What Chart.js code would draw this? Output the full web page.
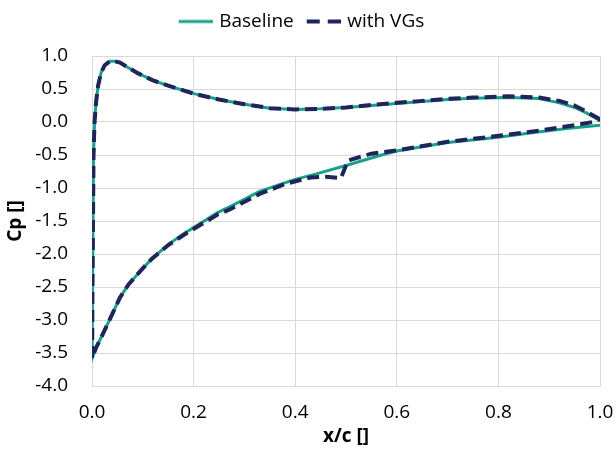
<!DOCTYPE html>
<html>
<head>
<meta charset="utf-8">
<script src="https://cdn.jsdelivr.net/npm/chart.js@4"></script>
<style>
  body { margin: 0; background: #fff; }
</style>
</head>
<body>
<canvas id="myChart" width="616" height="460"></canvas>
<script>
// Baseline Cp, traced trailing edge (upper) -> leading edge -> trailing edge (lower)
const baselineX = [1.0, 0.975, 0.95, 0.92, 0.88, 0.82, 0.75, 0.70, 0.65, 0.60, 0.55, 0.50, 0.45, 0.40, 0.35, 0.30, 0.25, 0.20, 0.15, 0.12, 0.09, 0.07, 0.055, 0.045, 0.035, 0.025, 0.018, 0.012, 0.008, 0.005, 0.003, 0.002, 0.001, 0.0005, 0.0,
  0.008, 0.019, 0.038, 0.055, 0.072, 0.095, 0.118, 0.151, 0.185, 0.2, 0.248, 0.27, 0.33, 0.40, 0.44, 0.50, 0.57, 0.60, 0.70, 0.80, 0.87, 0.935, 1.0];
const baselineCp = [0.02, 0.13, 0.22, 0.29, 0.355, 0.37, 0.36, 0.34, 0.31, 0.28, 0.25, 0.22, 0.20, 0.19, 0.21, 0.27, 0.34, 0.43, 0.55, 0.63, 0.74, 0.83, 0.90, 0.92, 0.92, 0.86, 0.75, 0.55, 0.30, 0.0, -0.5, -1.5, -2.5, -3.2, -3.58,
  -3.42, -3.25, -2.94, -2.66, -2.46, -2.26, -2.07, -1.85, -1.67, -1.60, -1.37, -1.29, -1.05, -0.87, -0.79, -0.66, -0.50, -0.44, -0.31, -0.23, -0.16, -0.10, -0.05];

// With VGs
const vgX = [1.0, 0.975, 0.95, 0.92, 0.88, 0.82, 0.75, 0.70, 0.65, 0.60, 0.55, 0.50, 0.45, 0.40, 0.35, 0.30, 0.25, 0.20, 0.15, 0.12, 0.09, 0.07, 0.055, 0.045, 0.035, 0.025, 0.018, 0.012, 0.008, 0.005, 0.003, 0.002, 0.001, 0.0005, 0.0,
  0.008, 0.019, 0.038, 0.055, 0.072, 0.095, 0.118, 0.151, 0.185, 0.2, 0.248, 0.27, 0.33, 0.38, 0.43, 0.46, 0.49, 0.50, 0.505, 0.55, 0.60, 0.70, 0.80, 0.88, 0.95, 0.986, 1.0];
const vgCp = [0.04, 0.15, 0.25, 0.32, 0.37, 0.39, 0.37, 0.35, 0.32, 0.29, 0.26, 0.22, 0.20, 0.19, 0.21, 0.27, 0.34, 0.43, 0.55, 0.63, 0.74, 0.83, 0.90, 0.92, 0.92, 0.86, 0.75, 0.55, 0.30, 0.0, -0.5, -1.5, -2.5, -3.2, -3.58,
  -3.42, -3.25, -2.94, -2.66, -2.46, -2.26, -2.07, -1.86, -1.69, -1.62, -1.40, -1.33, -1.09, -0.94, -0.84, -0.83, -0.85, -0.66, -0.58, -0.48, -0.43, -0.30, -0.21, -0.13, -0.05, 0.0, 0.04];

const teal = '#18a08b';
const navy = '#1f2558';
const font = 'Open Sans';

const toPoints = (xs, ys) => xs.map((x, i) => ({ x: x, y: ys[i] }));

// small line images for the legend (Chart.js drops the dash on point styles)
function legendLine(color, width, dash) {
  const c = document.createElement('canvas');
  c.width = 40;
  c.height = 6;
  const g = c.getContext('2d');
  g.strokeStyle = color;
  g.lineWidth = width;
  g.setLineDash(dash);
  g.beginPath();
  g.moveTo(6, 3);
  g.lineTo(40, 3);
  g.stroke();
  return c;
}

const legendSpacer = {
  id: 'legendSpacer',
  beforeInit(chart) {
    const fit = chart.legend.fit;
    chart.legend.fit = function () {
      fit.call(this);
      this.height += 15;
    };
  }
};

const data = {
  datasets: [
    {
      label: 'Baseline',
      data: toPoints(baselineX, baselineCp),
      borderColor: teal,
      backgroundColor: teal,
      borderWidth: 3,
      pointStyle: legendLine(teal, 3, []),
      order: 2
    },
    {
      label: 'with VGs',
      data: toPoints(vgX, vgCp),
      borderColor: navy,
      backgroundColor: navy,
      borderWidth: 4,
      borderDash: [12, 6],
      pointStyle: legendLine(navy, 4, [13, 8]),
      order: 1
    }
  ]
};

const config = {
  type: 'scatter',
  data: data,
  plugins: [legendSpacer],
  options: {
    responsive: false,
    animation: false,
    showLine: true,
    elements: {
      point: { radius: 0, hoverRadius: 0 },
      line: { tension: 0, fill: false }
    },
    layout: { padding: { left: 0, right: 16, top: 2, bottom: 0 } },
    plugins: {
      legend: {
        position: 'top',
        labels: {
          usePointStyle: true,
          pointStyleWidth: 34,
          color: '#000',
          font: { family: font, size: 19 },
          padding: 10,
          sort: (a, b) => a.datasetIndex - b.datasetIndex
        }
      },
      tooltip: { enabled: false }
    },
    scales: {
      x: {
        type: 'linear',
        min: 0,
        max: 1,
        afterFit: scale => {
          scale.height = 74;
          scale.paddingLeft = 0;
          scale.paddingRight = 0;
        },
        ticks: {
          stepSize: 0.2,
          color: '#000',
          font: { family: font, size: 19 },
          padding: 15,
          callback: v => v.toFixed(1)
        },
        grid: { color: '#d9d9d9', drawTicks: false },
        border: { color: '#d9d9d9' },
        title: {
          display: true,
          text: 'x/c []',
          color: '#000',
          font: { family: font, size: 19, weight: 'bold' },
          padding: { top: 0, bottom: 12 }
        }
      },
      y: {
        min: -4,
        max: 1,
        afterFit: scale => { scale.width = 92; },
        ticks: {
          stepSize: 0.5,
          color: '#000',
          font: { family: font, size: 19 },
          padding: 24,
          callback: v => v.toFixed(1)
        },
        grid: { color: '#d9d9d9', drawTicks: false },
        border: { color: '#d9d9d9' },
        title: {
          display: true,
          text: 'Cp []',
          color: '#000',
          font: { family: font, size: 19, weight: 'bold' },
          padding: { top: 4, bottom: 0 }
        }
      }
    }
  }
};

const ctx = document.getElementById('myChart').getContext('2d');
new Chart(ctx, config);
</script>
</body>
</html>
